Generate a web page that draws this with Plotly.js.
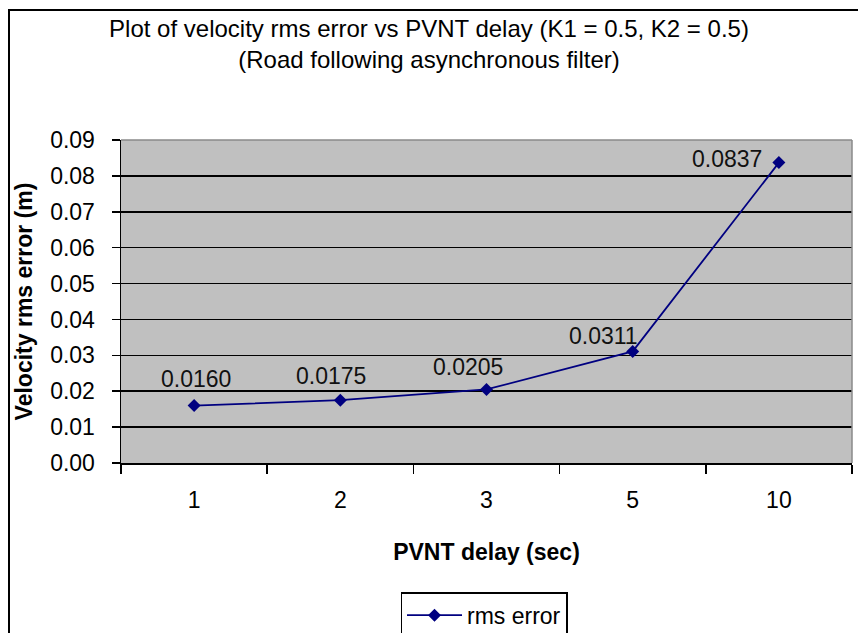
<!DOCTYPE html>
<html>
<head>
<meta charset="utf-8">
<script src="https://cdn.plot.ly/plotly-3.0.1.min.js"></script>
<style>
  html, body { margin: 0; padding: 0; background: #fff; overflow: hidden; }
  #wrap { position: relative; width: 858px; height: 633px; }
  #chart { position: absolute; left: 0; top: 0; width: 858px; height: 633px; }
  #frame { position: absolute; left: 8px; top: 9px; width: 900px; height: 700px;
           border: 2px solid #000; pointer-events: none; box-sizing: border-box; }
</style>
</head>
<body>
<div id="wrap">
  <div id="chart"></div>
  <div id="frame"></div>
</div>
<script>
// ---- data ----
const delays = ["1", "2", "3", "5", "10"];
const rmsError = [0.0160, 0.0175, 0.0205, 0.0311, 0.0837];
const valueLabels = ["0.0160", "0.0175", "0.0205", "0.0311", "0.0837"];
const yTicks = [0, 0.01, 0.02, 0.03, 0.04, 0.05, 0.06, 0.07, 0.08, 0.09];
const seriesName = "rms error";

// label offsets (px) mimicking the original label placement
const labelDX = [2, -9, -19, -29, -52];
const labelDY = [27, 24, 22, 15, 4];

const FONT = "Liberation Sans, Arial, sans-serif";
const NAVY = "#000080";

const trace = {
  x: delays,
  y: rmsError,
  type: "scatter",
  mode: "lines+markers",
  name: seriesName,
  line: { color: NAVY, width: 1.8 },
  marker: { symbol: "diamond", size: 10, color: NAVY },
  hoverinfo: "skip"
};

const annotations = delays.map((d, i) => ({
  x: i, y: rmsError[i], xref: "x", yref: "y",
  text: valueLabels[i], showarrow: false,
  xshift: labelDX[i], yshift: labelDY[i],
  font: { family: FONT, size: 23, color: "#111" }
}));

const layout = {
  width: 858, height: 633,
  margin: { l: 121, r: 6, t: 140, b: 170, autoexpand: false },
  paper_bgcolor: "rgba(0,0,0,0)",
  plot_bgcolor: "#c0c0c0",
  showlegend: true,
  font: { family: FONT, color: "#000" },
  title: {
    text: "Plot of velocity rms error vs PVNT delay (K1 = 0.5, K2 = 0.5)<br>(Road following asynchronous filter)",
    x: 0.5, xref: "container", xanchor: "center",
    y: 1 - 37 / 633, yref: "container", yanchor: "top",
    font: { family: FONT, size: 24, color: "#000" }
  },
  xaxis: {
    type: "category",
    categoryorder: "array", categoryarray: delays,
    range: [-0.5, 4.5],
    tickson: "boundaries",
    ticks: "outside", ticklen: 9, tickwidth: 1.5, tickcolor: "#000",
    ticklabelstandoff: 16,
    showgrid: false, zeroline: false,
    showline: true, linecolor: "#000", linewidth: 1.5,
    tickfont: { family: FONT, size: 23, color: "#000" },
    automargin: false,
    title: { text: "<b>PVNT delay (sec)</b>", standoff: 32,
             font: { family: FONT, size: 23, color: "#000" } }
  },
  yaxis: {
    range: [0, 0.09],
    tickvals: yTicks, tickformat: ".2f",
    ticks: "outside", ticklen: 8, tickwidth: 1.5, tickcolor: "#000",
    ticklabelstandoff: 12,
    showgrid: true, gridcolor: "#000", gridwidth: 1.6,
    zeroline: false,
    showline: true, linecolor: "#000", linewidth: 1.5,
    tickfont: { family: FONT, size: 23, color: "#000" },
    automargin: false,
    title: { text: "<b>Velocity rms error (m)</b>", standoff: 11,
             font: { family: FONT, size: 23, color: "#000" } }
  },
  legend: {
    orientation: "h",
    x: 0.4966, xanchor: "center",
    y: -0.40, yanchor: "top",
    itemwidth: 55,
    bgcolor: "#fff", bordercolor: "#000", borderwidth: 1.5,
    font: { family: FONT, size: 23, color: "#000" }
  },
  shapes: [
    { type: "line", xref: "paper", yref: "paper", x0: 0, x1: 1, y0: 1, y1: 1,
      line: { color: "#8a8a8a", width: 1.5 }, layer: "above" },
    { type: "line", xref: "paper", yref: "paper", x0: 1, x1: 1, y0: 0, y1: 1,
      line: { color: "#8a8a8a", width: 1.5 }, layer: "above" }
  ],
  annotations: annotations
};

Plotly.newPlot("chart", [trace], layout, { displayModeBar: false, staticPlot: true });
</script>
</body>
</html>
